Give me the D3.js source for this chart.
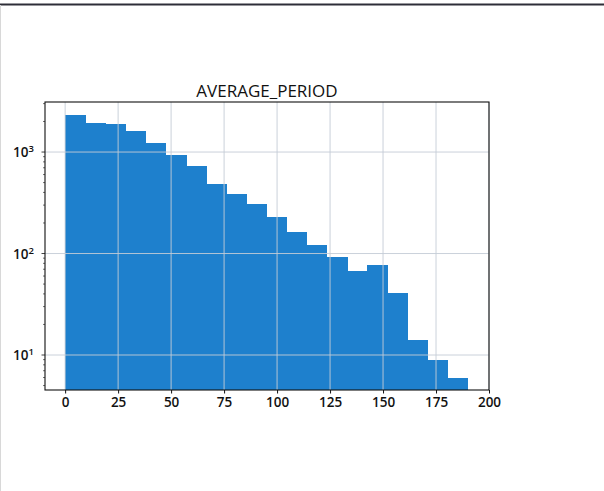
<!DOCTYPE html>
<html>
<head>
<meta charset="utf-8">
<script src="https://cdn.jsdelivr.net/npm/d3@7"></script>
<style>
  html, body { margin: 0; padding: 0; background: #fff; }
  svg { display: block; }
  text { font-family: "Open Sans", "DejaVu Sans", sans-serif; fill: #111; }
</style>
</head>
<body>
<script>
// Histogram of AVERAGE_PERIOD, 20 equal-width bins, log-scaled counts
const title = "AVERAGE_PERIOD";
const binStarts = [0, 9.5, 19, 28.5, 38, 47.5, 57, 66.5, 76, 85.5,
                   95, 104.5, 114, 123.5, 133, 142.5, 152, 161.5, 171, 180.5];
const binEnds   = [9.5, 19, 28.5, 38, 47.5, 57, 66.5, 76, 85.5, 95,
                   104.5, 114, 123.5, 133, 142.5, 152, 161.5, 171, 180.5, 190];
const counts    = [2330, 1940, 1890, 1600, 1235, 934, 732, 484, 388, 305,
                   228, 162, 120, 92, 67, 77, 41, 14, 9, 6];
const xTicks = [0, 25, 50, 75, 100, 125, 150, 175, 200];
const yTicks = [10, 100, 1000];
const xDomain = [-9.5, 200];
const yDomain = [4.52, 3112];

const W = 604, H = 491;
const plot = { left: 45, right: 489, top: 102, bottom: 390 };
const barColor = "#1e80cd";

const svg = d3.select("body").append("svg").attr("width", W).attr("height", H);

// page edges
svg.append("line").attr("x1", 0).attr("x2", W).attr("y1", 4.5).attr("y2", 4.5)
  .attr("stroke", "#2e2e38").attr("stroke-width", 2.2);
svg.append("line").attr("x1", 0.5).attr("x2", 0.5).attr("y1", 5).attr("y2", H)
  .attr("stroke", "#d8d8d8").attr("stroke-width", 1);

const x = d3.scaleLinear().domain(xDomain).range([plot.left, plot.right]);
const y = d3.scaleLog().domain(yDomain).range([plot.bottom, plot.top]);

const bins = counts.map((c, i) => ({ x0: binStarts[i], x1: binEnds[i], n: c }));

// bars, drawn as one path so neighbouring bins leave no seams
const barPath = d3.path();
bins.forEach(d => {
  barPath.rect(x(d.x0), y(d.n), x(d.x1) - x(d.x0) + 0.6, plot.bottom - y(d.n));
});
svg.append("path").attr("d", barPath.toString()).attr("fill", barColor)
  .attr("shape-rendering", "crispEdges");

// grid (drawn over bars)
const grid = svg.append("g").attr("stroke-width", 0.9);
grid.selectAll(".gx").data(xTicks).join("line")
  .attr("stroke", "#c4ccd6")
  .attr("x1", d => x(d)).attr("x2", d => x(d))
  .attr("y1", plot.top).attr("y2", plot.bottom);
grid.selectAll(".gy").data(yTicks).join("line")
  .attr("stroke", "#c4ccd6")
  .attr("x1", plot.left).attr("x2", plot.right)
  .attr("y1", d => y(d)).attr("y2", d => y(d));

// x axis
const xAxis = d3.axisBottom(x).tickValues(xTicks).tickSize(3.5).tickPadding(4)
  .tickFormat(d3.format("d"));
const gx = svg.append("g").attr("transform", `translate(0,${plot.bottom})`).call(xAxis);
gx.select(".domain").remove();
gx.selectAll("text").style("font-size", "13.5px").style("font-weight", "600").attr("fill", "#111");
gx.selectAll("line").attr("stroke", "#111");

// y axis: minor ticks then major ticks with 10^k labels
const minor = [];
[1, 10, 100, 1000].forEach(b => { for (let m = 2; m <= 9; m++) { const v = b * m; if (v >= yDomain[0] && v <= yDomain[1]) minor.push(v); } });
const gy = svg.append("g");
gy.selectAll(".mn").data(minor).join("line")
  .attr("x1", plot.left - 2).attr("x2", plot.left)
  .attr("y1", d => y(d)).attr("y2", d => y(d))
  .attr("stroke", "#111").attr("stroke-width", 0.6);
gy.selectAll(".mj").data(yTicks).join("line")
  .attr("x1", plot.left - 3.5).attr("x2", plot.left)
  .attr("y1", d => y(d)).attr("y2", d => y(d))
  .attr("stroke", "#111").attr("stroke-width", 0.8);
const yl = gy.selectAll(".lbl").data(yTicks).join("text")
  .attr("x", plot.left - 11).attr("y", d => y(d) + 5)
  .attr("text-anchor", "end")
  .style("font-size", "13.5px").style("font-weight", "600");
yl.append("tspan").text("10");
yl.append("tspan").attr("dy", -5).style("font-size", "9.5px").text(d => Math.round(Math.log10(d)));

// frame
svg.append("rect")
  .attr("x", plot.left).attr("y", plot.top)
  .attr("width", plot.right - plot.left).attr("height", plot.bottom - plot.top)
  .attr("fill", "none").attr("stroke", "#111").attr("stroke-width", 1.1);

// title
svg.append("text")
  .attr("x", (plot.left + plot.right) / 2).attr("y", 97)
  .attr("text-anchor", "middle")
  .style("font-size", "17px")
  .text(title);
</script>
</body>
</html>
